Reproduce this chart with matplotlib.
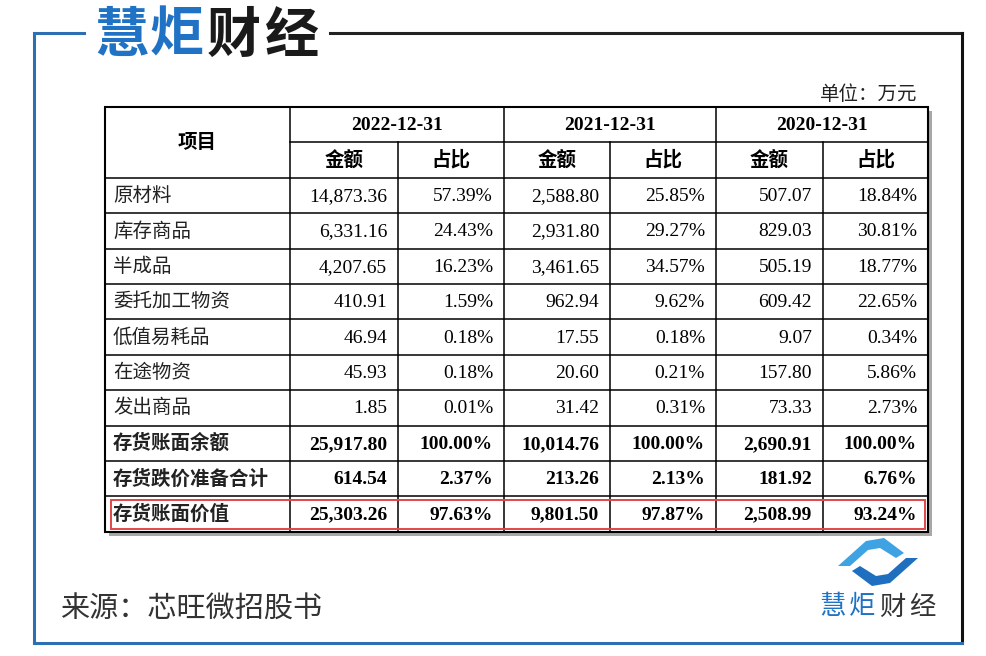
import matplotlib.pyplot as plt
from matplotlib.patches import Rectangle, Polygon

plt.rcParams['font.family'] = ['Noto Sans CJK SC', 'DejaVu Sans']

# table data (万元)
items = ["原材料", "库存商品", "半成品", "委托加工物资", "低值易耗品", "在途物资",
         "发出商品", "存货账面余额", "存货跌价准备合计", "存货账面价值"]
dates = ["2022-12-31", "2021-12-31", "2020-12-31"]
amt_2022 = [14873.36, 6331.16, 4207.65, 410.91, 46.94, 45.93, 1.85, 25917.80, 614.54, 25303.26]
pct_2022 = [57.39, 24.43, 16.23, 1.59, 0.18, 0.18, 0.01, 100.00, 2.37, 97.63]
amt_2021 = [2588.80, 2931.80, 3461.65, 962.94, 17.55, 20.60, 31.42, 10014.76, 213.26, 9801.50]
pct_2021 = [25.85, 29.27, 34.57, 9.62, 0.18, 0.21, 0.31, 100.00, 2.13, 97.87]
amt_2020 = [507.07, 829.03, 505.19, 609.42, 9.07, 157.80, 73.33, 2690.91, 181.92, 2508.99]
pct_2020 = [18.84, 30.81, 18.77, 22.65, 0.34, 5.86, 2.73, 100.00, 6.76, 93.24]
bold_rows = 3  # last three rows are bold

amounts = [amt_2022, amt_2021, amt_2020]
ratios = [pct_2022, pct_2021, pct_2020]

BLUE = "#2e6fb3"
LOGO_BLUE = "#1f72c4"
SERIF = "Liberation Serif"

fig = plt.figure(figsize=(9.86, 6.56), dpi=100)
ax = fig.add_axes([0, 0, 1, 1])
ax.set_xlim(0, 986)
ax.set_ylim(656, 0)
ax.axis("off")

# outer frame
ax.plot([34, 34], [33, 643], color=BLUE, lw=2.2)
ax.plot([34, 84], [33, 33], color=BLUE, lw=2.2)
ax.plot([330, 962], [33, 33], color="#222222", lw=2.2)
ax.plot([962, 962], [33, 643], color="#111111", lw=2.2)
ax.plot([34, 962], [643, 643], color=BLUE, lw=2.2)

# top logo
for x, ch, c in zip([121, 177, 234, 291], "慧炬财经", [LOGO_BLUE, LOGO_BLUE, "#1a1a1a", "#1a1a1a"]):
    ax.text(x, 36, ch, fontsize=39, fontweight="bold", color=c, ha="center", va="center")

ax.text(917, 94, "单位：万元", fontsize=14, color="#222222", ha="right", va="center")

# table geometry
col_x = [105, 290, 398, 504, 610, 716, 823, 928]
top, row_h = 107, 35.4
n_rows = len(items) + 2
bottom = top + n_rows * row_h
row_y = [top + i * row_h for i in range(n_rows + 1)]

# shadow + background
ax.add_patch(Rectangle((col_x[0] + 4, top + 4), col_x[-1] - col_x[0], bottom - top,
                       facecolor="#a8a8a8", edgecolor="none", zorder=1))
ax.add_patch(Rectangle((col_x[0], top), col_x[-1] - col_x[0], bottom - top,
                       facecolor="white", edgecolor="none", zorder=2))

lw_in = 1.1
# horizontal lines
ax.plot([col_x[1], col_x[-1]], [row_y[1], row_y[1]], color="black", lw=lw_in, zorder=3)
for y in row_y[2:-1]:
    ax.plot([col_x[0], col_x[-1]], [y, y], color="black", lw=lw_in, zorder=3)
# vertical lines
for i in (1, 3, 5):
    ax.plot([col_x[i], col_x[i]], [top, bottom], color="black", lw=lw_in, zorder=3)
for i in (2, 4, 6):
    ax.plot([col_x[i], col_x[i]], [row_y[1], bottom], color="black", lw=lw_in, zorder=3)
ax.add_patch(Rectangle((col_x[0], top), col_x[-1] - col_x[0], bottom - top,
                       facecolor="none", edgecolor="black", lw=1.5, zorder=4))

# header
ax.text((col_x[0] + col_x[1]) / 2, row_y[1], "项目", fontsize=14, fontweight="bold",
        ha="center", va="center", zorder=5)
for k, d in enumerate(dates):
    x0, x1, x2 = col_x[1 + 2 * k], col_x[2 + 2 * k], col_x[3 + 2 * k]
    ax.text((x0 + x2) / 2, (row_y[0] + row_y[1]) / 2 + 1, d, fontsize=14, fontweight="bold",
            family=SERIF, ha="center", va="center", zorder=5)
    ax.text((x0 + x1) / 2, (row_y[1] + row_y[2]) / 2, "金额", fontsize=14, fontweight="bold",
            ha="center", va="center", zorder=5)
    ax.text((x1 + x2) / 2, (row_y[1] + row_y[2]) / 2, "占比", fontsize=14, fontweight="bold",
            ha="center", va="center", zorder=5)

# body
for r, name in enumerate(items):
    yc = (row_y[r + 2] + row_y[r + 3]) / 2
    w = "bold" if r >= len(items) - bold_rows else "normal"
    ax.text(col_x[0] + 8, yc, name, fontsize=14, fontweight=w, color="#222222",
            ha="left", va="center", zorder=5)
    for k in range(3):
        ax.text(col_x[2 + 2 * k] - 11, yc + 1, f"{amounts[k][r]:,.2f}", fontsize=14,
                fontweight=w, family=SERIF, ha="right", va="center", zorder=5)
        ax.text(col_x[3 + 2 * k] - 11, yc + 1, f"{ratios[k][r]:.2f}%", fontsize=14,
                fontweight=w, family=SERIF, ha="right", va="center", zorder=5)

# red highlight box around last row
ax.add_patch(Rectangle((111, row_y[-2] + 4), 814, row_h - 7, facecolor="none",
                       edgecolor="#e04848", lw=1.4, zorder=6))

# source
ax.text(60, 610, "来源：芯旺微招股书", fontsize=21, color="#333333", ha="left", va="center")

# bottom-right logo icon
upper = [(838, 566), (866, 541), (884, 538), (904, 553), (896, 558), (880, 548), (868, 550), (850, 566)]
lower = [(1756 - x, 1124 - y) for x, y in upper]
ax.add_patch(Polygon(upper, closed=True, facecolor="#3fa3e3", edgecolor="none"))
ax.add_patch(Polygon(lower, closed=True, facecolor="#1f6fc0", edgecolor="none"))
for x, ch, c in zip([832, 862, 892, 922], "慧炬财经", [LOGO_BLUE, LOGO_BLUE, "#333333", "#333333"]):
    ax.text(x, 607, ch, fontsize=19, color=c, ha="center", va="center")

fig.savefig("out.png", dpi=100)
